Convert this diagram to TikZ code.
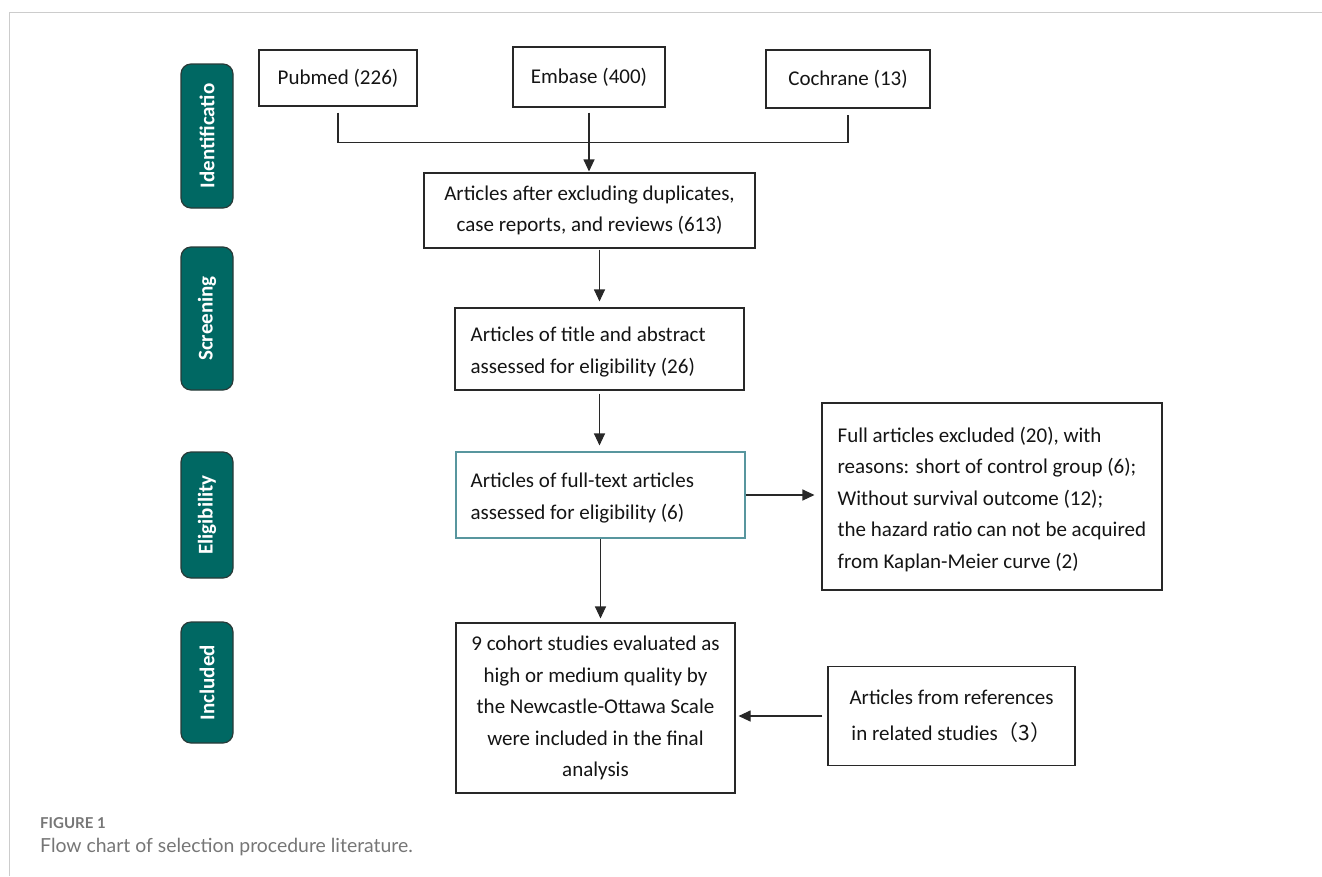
\documentclass[tikz,border=0pt]{standalone}
\usepackage{fontspec}
\setmainfont{Carlito}
\newfontfamily\capfont{Lato}
\newfontfamily\cjk{Noto Sans CJK SC}
\usetikzlibrary{arrows.meta}
\definecolor{tealfill}{RGB}{0,104,99}
\definecolor{pillline}{RGB}{40,58,56}
\definecolor{boxline}{RGB}{40,40,40}
\definecolor{txt}{RGB}{20,20,20}
\definecolor{eligline}{RGB}{88,150,158}
\definecolor{framegray}{RGB}{204,204,204}
\definecolor{capgray}{RGB}{118,118,118}
\begin{document}
\begin{tikzpicture}[x=1pt,y=-1pt,
  box/.style={draw=boxline, line width=1.1pt, inner sep=0pt, align=center,
    font=\fontsize{21}{31.5}\selectfont, text=txt},
  txtl/.style={inner sep=0pt, align=left, font=\fontsize{21}{31.5}\selectfont, text=txt, yshift=-3pt},
  pill/.style={draw=pillline, line width=1.2pt, fill=tealfill, rounded corners=10pt,
    rotate=90, minimum height=52pt, inner sep=0pt, text=white,
    font=\bfseries\fontsize{21}{24}\selectfont},
  conn/.style={draw=boxline, line width=1.1pt},
  arr/.style={conn, -{Triangle[length=12pt,width=11pt]}},
  frameline/.style={draw=framegray, line width=1.5pt}
]
\useasboundingbox (0,0) rectangle (1322,876);
\draw[frameline] (9.5,876) -- (9.5,12.5) -- (1322,12.5);

% stage pills
\node[pill, minimum width=144pt] (pid) at (207,136) {Identificatio};
\node[pill, minimum width=143pt] (psc) at (207,318.5) {Screening};
\node[pill, minimum width=126pt] (pel) at (207,515) {Eligibility};
\node[pill, minimum width=121pt] (pin) at (207,682.5) {Included};

% source boxes
\node[box, minimum width=158pt, minimum height=56pt] (pub) at (338,78) {Pubmed (226)};
\node[box, minimum width=152pt, minimum height=60pt] (emb) at (589,77) {Embase (400)};
\node[box, minimum width=164pt, minimum height=58pt] (coch) at (848,79) {Cochrane (13)};

% main flow
\node[box, minimum width=331pt, minimum height=75pt] (excl) at (589.5,210.5)
  {Articles after excluding duplicates,\\case reports, and reviews (613)};
\node[box, minimum width=289pt, minimum height=82pt] (title) at (599.5,349) {};
\node[txtl, anchor=west] (titleT) at ([xshift=16pt]title.west)
  {Articles of title and abstract\\assessed for eligibility (26)};
\node[box, draw=eligline, minimum width=289pt, minimum height=86pt] (elig) at (600.5,495) {};
\node[txtl, anchor=west] (eligT) at ([xshift=15pt]elig.west)
  {Articles of full-text articles\\assessed for eligibility (6)};
\node[box, minimum width=340pt, minimum height=187pt] (full) at (992,496.5) {};
\node[txtl, anchor=west] (fullT) at ([xshift=16pt]full.west)
  {Full articles excluded (20), with\\reasons: short of control group (6);\\Without survival outcome (12);\\the hazard ratio can not be acquired\\from Kaplan-Meier curve (2)};
\node[box, minimum width=279pt, minimum height=170pt] (incl) at (595.5,708)
  {9 cohort studies evaluated as\\high or medium quality by\\the Newcastle-Ottawa Scale\\were included in the final\\analysis};
\node[box, minimum width=247pt, minimum height=99pt, font=\fontsize{21}{36}\selectfont] (refs) at (951.5,716)
  {Articles from references\\in related studies{\cjk （3）}};

% connectors
\draw[conn] ([yshift=-6pt]pub.south) -- ++(0,30) -| ([yshift=-6pt]coch.south);
\draw[arr, shorten >=1pt] ([yshift=-5pt]emb.south) -- (excl.north -| emb.south);
\draw[arr, shorten <=1pt, shorten >=6pt] (excl.south -| title.north) -- (title.north);
\draw[arr, shorten <=3pt, shorten >=6pt] (title.south) -- (elig.north -| title.south);
\draw[arr, shorten >=7pt] (elig.east) -- (elig.east -| full.west);
\draw[arr, shorten >=4pt] (elig.south) -- (incl.north -| elig.south);
\draw[arr, shorten <=5pt, shorten >=3pt] (refs.west) -- (refs.west -| incl.east);

% caption
\node[anchor=base west, inner sep=0pt, text=capgray, font=\capfont\bfseries\fontsize{15}{18}\selectfont] (fig) at (40,828) {FIGURE 1};
\node[anchor=base west, inner sep=0pt, text=capgray, font=\capfont\fontsize{19.4}{23}\selectfont] (cap) at (40,852) {Flow chart of selection procedure literature.};
\end{tikzpicture}
\end{document}
